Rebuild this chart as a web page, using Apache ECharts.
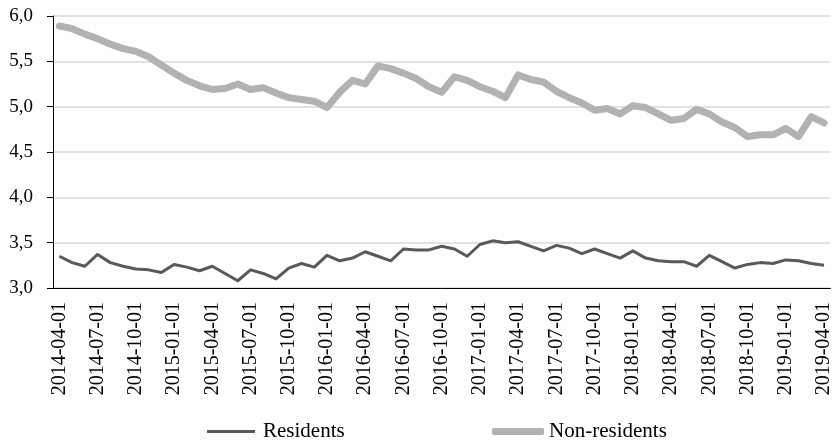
<!DOCTYPE html>
<html>
<head>
<meta charset="utf-8">
<script src="https://cdn.jsdelivr.net/npm/echarts@6/dist/echarts.min.js"></script>
<style>html,body{margin:0;padding:0;background:#fff}#c{width:834px;height:442px}</style>
</head>
<body>
<div id="c"></div>
<script>
// Monthly categories 2014-04-01 .. 2019-04-01
const categories = [
  "2014-04-01","2014-05-01","2014-06-01","2014-07-01","2014-08-01","2014-09-01",
  "2014-10-01","2014-11-01","2014-12-01","2015-01-01","2015-02-01","2015-03-01",
  "2015-04-01","2015-05-01","2015-06-01","2015-07-01","2015-08-01","2015-09-01",
  "2015-10-01","2015-11-01","2015-12-01","2016-01-01","2016-02-01","2016-03-01",
  "2016-04-01","2016-05-01","2016-06-01","2016-07-01","2016-08-01","2016-09-01",
  "2016-10-01","2016-11-01","2016-12-01","2017-01-01","2017-02-01","2017-03-01",
  "2017-04-01","2017-05-01","2017-06-01","2017-07-01","2017-08-01","2017-09-01",
  "2017-10-01","2017-11-01","2017-12-01","2018-01-01","2018-02-01","2018-03-01",
  "2018-04-01","2018-05-01","2018-06-01","2018-07-01","2018-08-01","2018-09-01",
  "2018-10-01","2018-11-01","2018-12-01","2019-01-01","2019-02-01","2019-03-01",
  "2019-04-01"
];
const residents = [
  3.35,3.28,3.24,3.37,3.28,3.24,3.21,3.20,3.17,3.26,3.23,3.19,
  3.24,3.16,3.08,3.20,3.16,3.10,3.22,3.27,3.23,3.36,3.30,3.33,
  3.40,3.35,3.30,3.43,3.42,3.42,3.46,3.43,3.35,3.48,3.52,3.50,
  3.51,3.46,3.41,3.47,3.44,3.38,3.43,3.38,3.33,3.41,3.33,3.30,
  3.29,3.29,3.24,3.36,3.29,3.22,3.26,3.28,3.27,3.31,3.30,3.27,
  3.25
];
const nonResidents = [
  5.89,5.86,5.80,5.75,5.69,5.64,5.61,5.55,5.46,5.37,5.29,5.23,
  5.19,5.20,5.25,5.19,5.21,5.15,5.10,5.08,5.06,4.99,5.16,5.29,
  5.25,5.45,5.42,5.37,5.31,5.22,5.16,5.33,5.29,5.22,5.17,5.10,
  5.35,5.30,5.27,5.17,5.10,5.04,4.96,4.98,4.92,5.01,4.99,4.92,
  4.85,4.87,4.97,4.92,4.83,4.77,4.67,4.69,4.69,4.76,4.67,4.89,
  4.82
];
const seriesNames = ["Residents","Non-residents"];
const yTicks = {min:3, max:6, step:0.5};

const font = "'Liberation Serif','Times New Roman',serif";
const chart = echarts.init(document.getElementById('c'), null, {renderer:'canvas'});
chart.setOption({
  animation:false,
  backgroundColor:'#ffffff',
  grid:{left:53, right:2, top:16, bottom:154, containLabel:false},
  legend:[
    {left:202, top:416, itemWidth:48, itemHeight:3,
      textStyle:{fontFamily:font, fontSize:21, color:'#000', padding:[0,0,0,3]},
      data:[{name:seriesNames[0], icon:'rect', itemStyle:{color:'#595959'}}]},
    {left:487, top:416, itemWidth:52, itemHeight:7,
      textStyle:{fontFamily:font, fontSize:21, color:'#000', padding:[0,0,0,0]},
      data:[{name:seriesNames[1], icon:'roundRect', itemStyle:{color:'#b2b2b2'}}]}
  ],
  xAxis:{
    type:'category', data:categories, boundaryGap:true,
    axisLine:{lineStyle:{color:'#000', width:1}},
    axisTick:{interval:2, length:6, lineStyle:{color:'#000'}},
    axisLabel:{interval:2, rotate:90, margin:14, fontFamily:font, fontSize:20, color:'#000'},
    splitLine:{show:false}
  },
  yAxis:{
    type:'value', min:yTicks.min, max:yTicks.max, interval:yTicks.step,
    axisLine:{show:true, lineStyle:{color:'#000', width:1}},
    axisTick:{show:true, length:6, lineStyle:{color:'#000'}},
    axisLabel:{margin:20, fontFamily:font, fontSize:19, color:'#000',
      formatter:v=>v.toFixed(1).replace('.',',')},
    splitLine:{lineStyle:{color:'#d9d9d9', width:1.5}}
  },
  series:[
    {name:seriesNames[0], type:'line', data:residents, symbol:'none',
      lineStyle:{color:'#595959', width:3, join:'round'}, itemStyle:{color:'#595959'}},
    {name:seriesNames[1], type:'line', data:nonResidents, symbol:'none',
      lineStyle:{color:'#b2b2b2', width:7, join:'round', cap:'round'}, itemStyle:{color:'#b2b2b2'}}
  ]
});
</script>
</body>
</html>
